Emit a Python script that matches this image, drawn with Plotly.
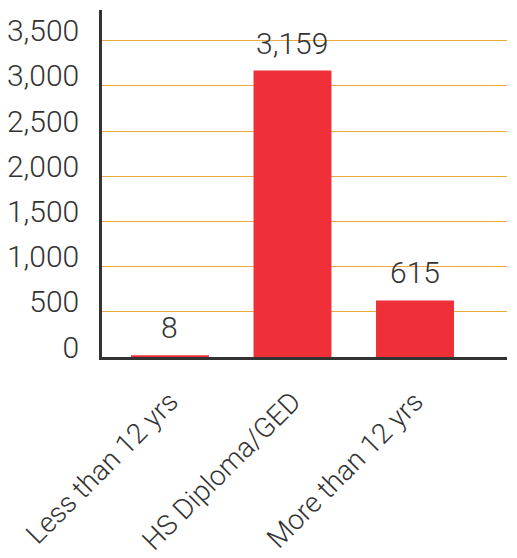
import plotly.graph_objects as go

categories = ["Less than 12 yrs", "HS Diploma/GED", "More than 12 yrs"]
counts = [8, 3159, 615]
count_labels = ["8", "3,159", "615"]
y_ticks = [0, 500, 1000, 1500, 2000, 2500, 3000, 3500]
y_tick_labels = ["0", "500", "1,000", "1,500", "2,000", "2,500", "3,000", "3,500"]

red = "#EF3038"
grid = "#EBAA3C"
ink = "#333333"
font = "Roboto, Liberation Sans, Arial, sans-serif"

xs = list(range(len(categories)))

fig = go.Figure(go.Bar(
    x=xs,
    y=counts,
    marker=dict(color=red, line=dict(color=red, width=2)),
    width=0.62,
    cliponaxis=False,
))

# value labels a bit further above the bars than plotly's own padding
for x, v, lab in zip(xs, counts, count_labels):
    fig.add_annotation(
        x=x, y=v, text=lab, showarrow=False,
        yanchor="bottom", yshift=9,
        font=dict(size=30, color=ink, family=font, weight=300),
    )

# page body keeps its default 8px margin, so the figure is 8px smaller
fig.update_layout(
    width=509,
    height=550,
    margin=dict(l=94, r=10, t=2, b=201, autoexpand=False),
    plot_bgcolor="white",
    paper_bgcolor="white",
    showlegend=False,
    font=dict(family=font, color=ink, weight=300),
    xaxis=dict(
        range=[-0.555, 2.751],
        tickvals=xs,
        ticktext=categories,
        tickangle=-45,
        tickfont=dict(size=28, color=ink, weight=300),
        ticklabelstandoff=14,
        automargin=False,
        showgrid=False,
        showline=True,
        linecolor=ink,
        linewidth=3,
        ticks="",
        zeroline=False,
    ),
    yaxis=dict(
        range=[0, 3840],
        tickvals=y_ticks,
        ticktext=y_tick_labels,
        tickfont=dict(size=30, color=ink, weight=300),
        automargin=False,
        showgrid=True,
        gridcolor=grid,
        gridwidth=1,
        showline=True,
        linecolor=ink,
        linewidth=2.5,
        ticks="",
        zeroline=False,
        ticklabelstandoff=14,
        ticklabelshift=-10,
    ),
)

fig.write_html("out.html")
